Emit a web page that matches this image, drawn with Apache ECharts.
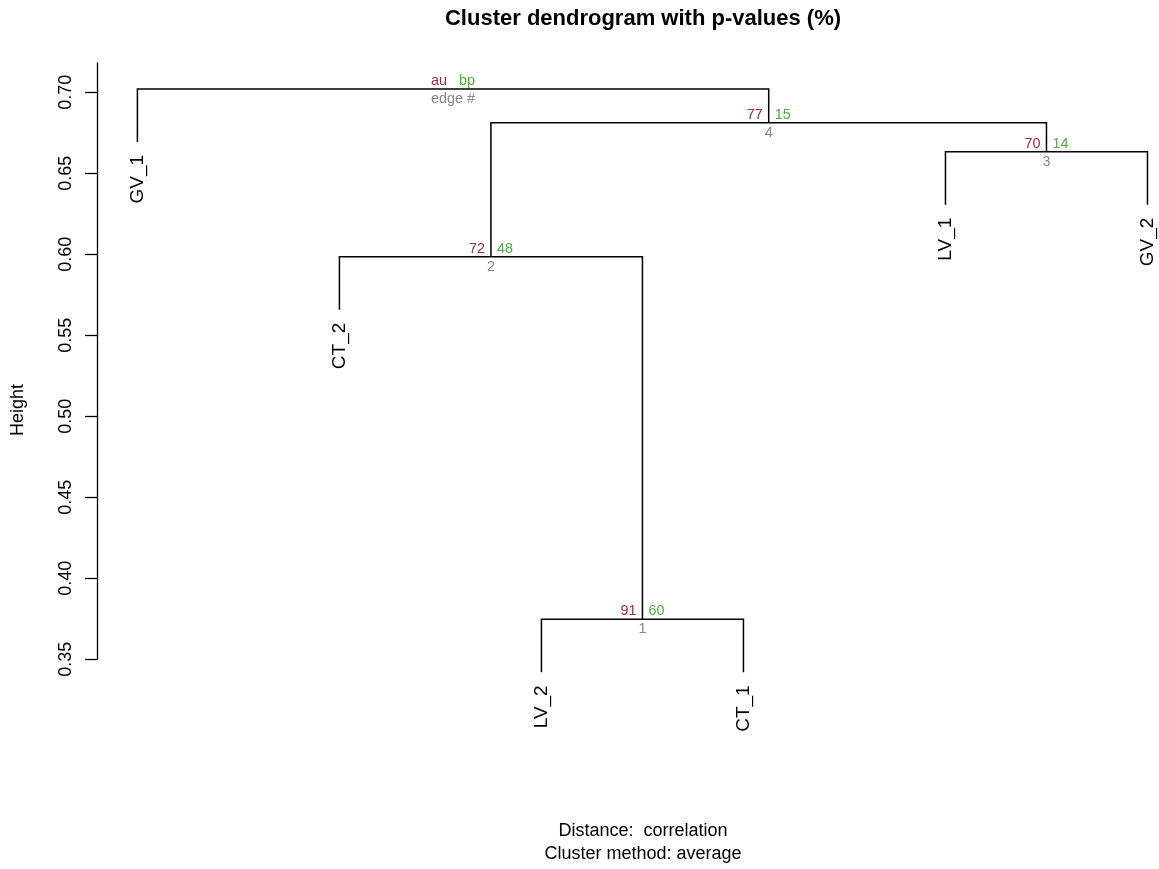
<!DOCTYPE html>
<html>
<head>
<meta charset="utf-8">
<script src="https://cdn.jsdelivr.net/npm/echarts@6/dist/echarts.min.js"></script>
<style>html,body{margin:0;padding:0;background:#fff}#c{width:1159px;height:869px}</style>
</head>
<body>
<div id="c"></div>
<script>
// ---- data ----
const leafLabels = ['GV_1', 'CT_2', 'LV_2', 'CT_1', 'LV_1', 'GV_2']; // display order
// merges (R hclust style): negative = leaf (1-based display position), positive = earlier merge
const mergeA = [-3, -2, -5, 2, -1];
const mergeB = [-4, 1, -6, 3, 4];
const mergeHeights = [0.3747, 0.5985, 0.6633, 0.6812, 0.702];
const auValues = [91, 72, 70, 77];
const bpValues = [60, 48, 14, 15];
const edgeNumbers = [1, 2, 3, 4];
const yTicks = [0.35, 0.40, 0.45, 0.50, 0.55, 0.60, 0.65, 0.70];
const titleText = 'Cluster dendrogram with p-values (%)';
const subLines = ['Distance:  correlation', 'Cluster method: average'];
const yName = 'Height';

// ---- build ----
const FONT = '"Liberation Sans", Arial, Helvetica, sans-serif';
const hang = 0.1 * (Math.max(...mergeHeights) - Math.min(...mergeHeights));
const nodeX = [];
function childX(c) { return c < 0 ? -c : nodeX[c - 1]; }
const treeData = [];
const leafData = [];
mergeHeights.forEach((h, i) => {
  const a = mergeA[i], b = mergeB[i];
  const xa = childX(a), xb = childX(b);
  nodeX.push((xa + xb) / 2);
  const ya = a < 0 ? h - hang : mergeHeights[a - 1];
  const yb = b < 0 ? h - hang : mergeHeights[b - 1];
  if (a < 0) leafData.push([xa, h - hang, leafLabels[-a - 1]]);
  if (b < 0) leafData.push([xb, h - hang, leafLabels[-b - 1]]);
  treeData.push([xa, xb, h, ya, yb]);
});
const nodeData = mergeHeights.map((h, i) => {
  if (i < auValues.length) return [nodeX[i], h, String(auValues[i]), String(bpValues[i]), String(edgeNumbers[i])];
  return [nodeX[i], h, 'au', 'bp', 'edge #'];
});

const chart = echarts.init(document.getElementById('c'), null, {renderer: 'canvas'});
const option = {
  backgroundColor: '#ffffff',
  animation: false,
  textStyle: {fontFamily: FONT},
  grid: {left: 97, top: 63, right: 0, bottom: 209.7, containLabel: false},
  xAxis: {type: 'value', min: 0.8, max: 6.057, show: false},
  yAxis: {
    type: 'value', min: 0.35, max: 0.718, interval: 0.05,
    axisLine: {show: true, lineStyle: {color: '#000', width: 1.3}},
    axisTick: {show: true, length: 12, lineStyle: {color: '#000', width: 1.3}, customValues: yTicks},
    axisLabel: {rotate: 90, margin: 22, color: '#000', fontSize: 18, fontFamily: FONT,
      customValues: yTicks, formatter: v => v.toFixed(2)},
    splitLine: {show: false}
  },
  graphic: [
    {type: 'text', style: {text: titleText, font: 'bold 22px ' + FONT, fill: '#000', x: 643, y: 19, align: 'center', verticalAlign: 'middle'}},
    {type: 'text', style: {text: subLines[0], font: '18px ' + FONT, fill: '#000', x: 643, y: 831, align: 'center', verticalAlign: 'middle'}},
    {type: 'text', style: {text: subLines[1], font: '18px ' + FONT, fill: '#000', x: 643, y: 854, align: 'center', verticalAlign: 'middle'}},
    {type: 'text', x: 18, y: 410, rotation: Math.PI / 2, style: {text: yName, font: '18px ' + FONT, fill: '#000', x: 0, y: 0, align: 'center', verticalAlign: 'middle'}}
  ],
  series: [
    {
      type: 'custom', coordinateSystem: 'cartesian2d', silent: true, clip: false,
      data: treeData,
      encode: {x: [0, 1], y: [2, 3, 4]},
      renderItem: (params, api) => {
        const xa = api.value(0), xb = api.value(1), h = api.value(2), ya = api.value(3), yb = api.value(4);
        const p1 = api.coord([xa, ya]), p2 = api.coord([xa, h]), p3 = api.coord([xb, h]), p4 = api.coord([xb, yb]);
        return {type: 'polyline', shape: {points: [p1, p2, p3, p4]}, style: {stroke: '#000', lineWidth: 1.5, fill: null}};
      }
    },
    {
      type: 'custom', coordinateSystem: 'cartesian2d', silent: true, clip: false,
      data: leafData,
      encode: {x: 0, y: 1},
      renderItem: (params, api) => {
        const p = api.coord([api.value(0), api.value(1)]);
        return {type: 'text', x: p[0], y: p[1] + 13, rotation: Math.PI / 2,
          style: {text: leafData[params.dataIndex][2], x: 0, y: 0, align: 'right', verticalAlign: 'middle', fill: '#000', font: '19px ' + FONT}};
      }
    },
    {
      type: 'custom', coordinateSystem: 'cartesian2d', silent: true, clip: false,
      data: nodeData,
      encode: {x: 0, y: 1},
      renderItem: (params, api) => {
        const d = nodeData[params.dataIndex];
        const p = api.coord([api.value(0), api.value(1)]);
        const f = '14.4px ' + FONT;
        return {type: 'group', children: [
          {type: 'text', style: {text: d[2], x: p[0] - 6, y: p[1] - 1, align: 'right', verticalAlign: 'bottom', fill: '#A3294F', font: f}},
          {type: 'text', style: {text: d[3], x: p[0] + 6, y: p[1] - 1, align: 'left', verticalAlign: 'bottom', fill: '#4FAE3C', font: f}},
          {type: 'text', style: {text: d[4], x: p[0], y: p[1] + 3, align: 'center', verticalAlign: 'top', fill: '#888888', font: f}}
        ]};
      }
    }
  ]
};
chart.setOption(option);
</script>
</body>
</html>
